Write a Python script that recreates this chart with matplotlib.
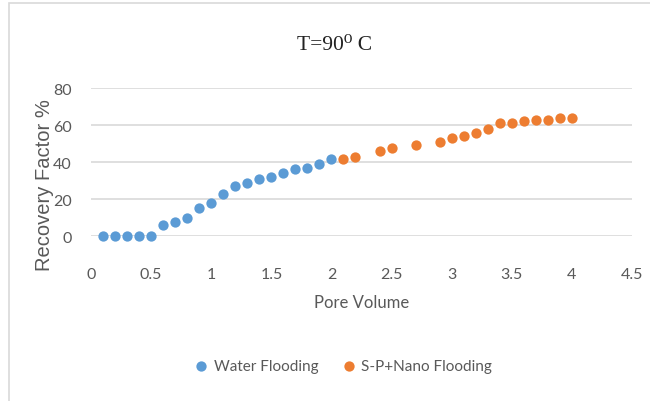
import matplotlib.pyplot as plt
from matplotlib.patches import Rectangle

# pore volume vs recovery factor
water_pv = [0.1, 0.2, 0.3, 0.4, 0.5, 0.6, 0.7, 0.8, 0.9, 1.0,
            1.1, 1.2, 1.3, 1.4, 1.5, 1.6, 1.7, 1.8, 1.9, 2.0]
water_rf = [0, 0, 0, 0, 0, 6.1, 7.7, 9.7, 15, 17.8,
            22.7, 26.8, 28.6, 30.8, 32, 33.9, 36.2, 37, 38.9, 41.6]
nano_pv = [2.1, 2.2, 2.4, 2.5, 2.7, 2.9, 3.0, 3.1, 3.2, 3.3,
           3.4, 3.5, 3.6, 3.7, 3.8, 3.9, 4.0]
nano_rf = [41.8, 42.7, 46, 47.7, 49.2, 51, 52.8, 53.9, 55.7, 57.8,
           60.9, 60.9, 62.2, 62.5, 62.9, 63.8, 63.8]
x_ticks = [0, 0.5, 1, 1.5, 2, 2.5, 3, 3.5, 4, 4.5]
x_labels = ["0", "0.5", "1", "1.5", "2", "2.5", "3", "3.5", "4", "4.5"]
y_ticks = [0, 20, 40, 60, 80]

BLUE = "#5B9BD5"
ORANGE = "#ED7D31"
GRAY = "#595959"
TICK_FONT = ["Lato", "DejaVu Sans"]

fig = plt.figure(figsize=(6.5, 4.02), dpi=100)
ax = fig.add_axes([0.14, 0.4104, 0.8323, 0.3682])

# light frame like the excel chart area
fig.patches.append(Rectangle((9 / 650, -0.1), 1.2, (1 - 4 / 402) + 0.1,
                             transform=fig.transFigure, fill=False,
                             edgecolor="#D9D9D9", lw=1.2))

ax.scatter(water_pv, water_rf, s=55, color=BLUE, label="Water Flooding",
           clip_on=False, zorder=3, linewidths=0)
ax.scatter(nano_pv, nano_rf, s=55, color=ORANGE, label="S-P+Nano Flooding",
           clip_on=False, zorder=3, linewidths=0)

ax.set_xlim(0, 4.5)
ax.set_ylim(0, 80)
ax.set_xticks(x_ticks)
ax.set_xticklabels(x_labels, family=TICK_FONT, fontsize=11.5, color=GRAY)
ax.set_yticks(y_ticks)
ax.set_yticklabels([str(v) for v in y_ticks], family=TICK_FONT,
                   fontsize=11.5, color=GRAY)
ax.tick_params(axis="x", length=0, pad=22)
ax.tick_params(axis="y", length=0, pad=14)
ax.grid(axis="y", color="#D9D9D9", lw=1.2)
ax.set_axisbelow(True)
for s in ax.spines.values():
    s.set_visible(False)

ax.set_xlabel("Pore Volume", family=TICK_FONT, fontsize=12, color=GRAY,
              labelpad=10)
# excel centres the y title lower than the plot area, so place it by hand
fig.text(45 / 650, 1 - 185 / 402, "Recovery Factor %", rotation=90,
         ha="center", va="center", family=["Liberation Sans", "DejaVu Sans"],
         fontsize=14.5, color=GRAY)

fig.text(335 / 650, 1 - 45 / 402, "T=90⁰ C", ha="center", va="center",
         family=["Liberation Serif", "DejaVu Serif"], fontsize=15.5, color="#222222")

leg = fig.legend(loc="center", bbox_to_anchor=(339 / 650, 1 - 367 / 402), ncol=2,
                 frameon=False, handletextpad=-0.2, columnspacing=1.0,
                 markerscale=1.0, prop={"family": TICK_FONT, "size": 11})
for t in leg.get_texts():
    t.set_color(GRAY)

fig.savefig("out.png", dpi=100)
